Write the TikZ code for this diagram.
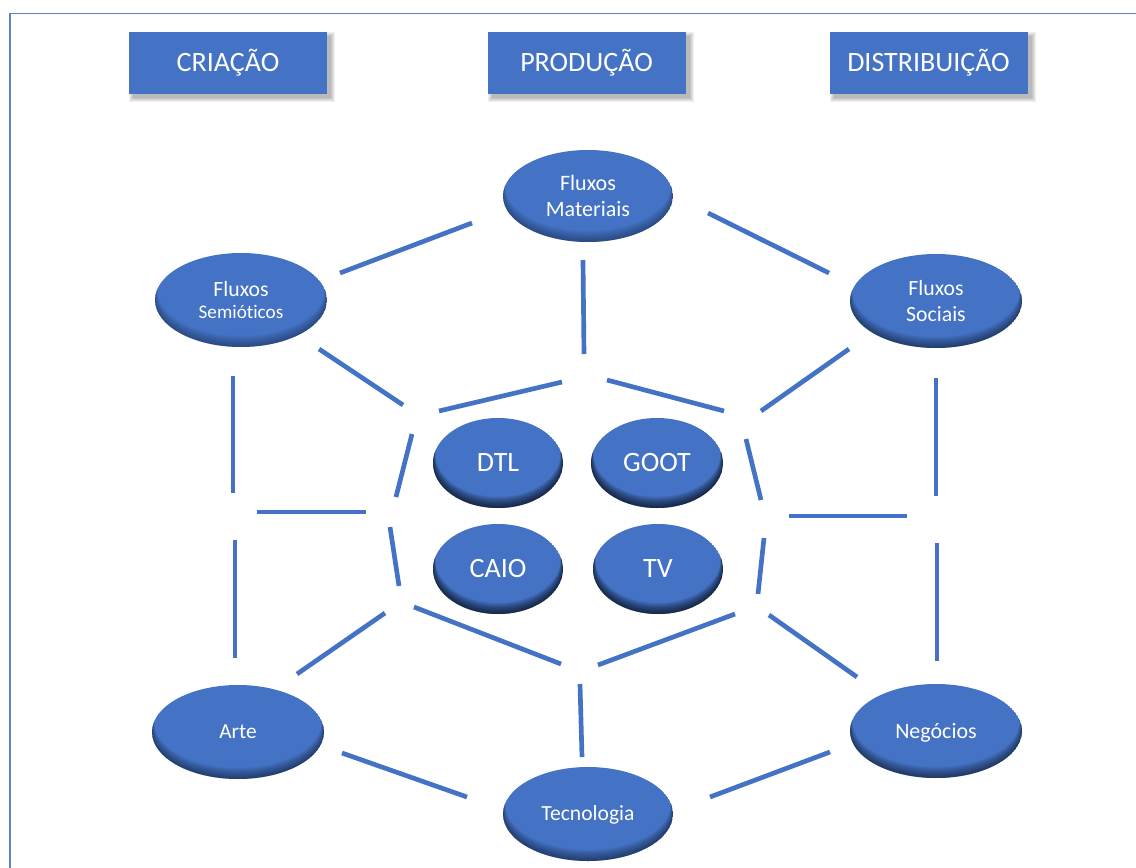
\documentclass[tikz,border=0pt]{standalone}
\usepackage{fontspec}
\setmainfont{Carlito}[Ligatures=NoCommon]
\usetikzlibrary{shapes.geometric}

\definecolor{acc}{HTML}{4472C4}
\definecolor{framecol}{HTML}{5A82C9}

% a one-line label whose box is exactly its cap height, so caps sit centred
\newcommand\capline[1]{\raisebox{0pt}[\fontcharht\font`N][0pt]{#1}}

\tikzset{
  link/.style={draw=acc, line width=3.5pt},
  hdr/.style={fill=acc, text=white, minimum width=148.5pt, minimum height=46.5pt,
              inner sep=0pt, font=\fontsize{21}{24}\selectfont},
  lbl/.style={text=white, align=center, inner sep=0pt, ellipse},
}

% filled ellipse with a soft inner shadow along its lower rim, plus its label node
% #1 name, #2 x, #3 y, #4 x radius, #5 y radius, #6 shadow strength, #7 font, #8 text
\newcommand\blob[8]{%
  \begin{scope}
    \clip (#2,#3) ellipse [x radius={#4*0.75pt}, y radius={#5*0.75pt}];
    \fill[acc] (#2,#3) ellipse [x radius={#4*0.75pt}, y radius={#5*0.75pt}];
    \foreach \k in {1,...,10}{
      \fill[black, opacity=#6, even odd rule]
        ({#2-#4-6},{#3-#5-6}) rectangle ({#2+#4+6},{#3+#5+6})
        (#2,{#3-\k*0.9}) ellipse [x radius={(#4-0.25*\k)*0.75pt}, y radius={(#5-0.2*\k)*0.75pt}];
    }
  \end{scope}
  \node[lbl, minimum width={#4*1.5pt}, minimum height={#5*1.5pt}, font=#7] (#1) at (#2,#3) {#8};
}

% header box with a soft drop shadow
\newcommand\headbox[4]{% name, x, y, text
  \foreach \s in {0,1,2,3,4}{
    \fill[black, opacity=0.06]
      ({#2-99+4-\s},{#3-31+4-\s}) rectangle ({#2+99+4+\s},{#3+31+4+\s});
  }
  \node[hdr] (#1) at (#2,#3) {\capline{#4}};
}

\begin{document}
\begin{tikzpicture}[x=0.75pt, y=-0.75pt]
  \useasboundingbox (0,0) rectangle (1136,868);
  \fill[white] (0,0) rectangle (1136,868);

  % outer frame (open towards right and bottom)
  \draw[framecol, line width=1.2pt] (10,868) -- (10,13.5) -- (1136,13.5);

  % column headers
  \headbox{cri}{228}{62.5}{CRIAÇÃO}
  \headbox{pro}{586.5}{62.5}{PRODUÇÃO}
  \headbox{dis}{928.5}{62.5}{DISTRIBUIÇÃO}

  % outer ring of flows
  \blob{mat}{588}{196}{85}{46}{0.035}{\fontsize{16.5}{19.5}\selectfont}{Fluxos\\Materiais}
  \blob{sem}{241}{300}{86}{47}{0.035}{\fontsize{16.3}{18}\selectfont}{Fluxos\\[-1pt]{\fontsize{14.4}{17}\selectfont Semióticos}}
  \blob{soc}{936}{301}{86}{47}{0.05}{\fontsize{16.3}{19.5}\selectfont}{Fluxos\\Sociais}
  \blob{arte}{238}{732}{86}{47}{0.05}{\fontsize{16}{19}\selectfont}{\capline{Arte}}
  \blob{neg}{936}{731}{86}{47}{0.06}{\fontsize{16.5}{19}\selectfont}{\capline{Negócios}}
  \blob{tec}{588}{814}{85}{47}{0.05}{\fontsize{16.2}{19}\selectfont}{\capline{Tecnologia}}

  % inner core
  \blob{dtl}{498}{463}{65}{45}{0.085}{\fontsize{21}{24}\selectfont}{\capline{DTL}}
  \blob{goot}{657}{463}{66}{45}{0.085}{\fontsize{21}{24}\selectfont}{\capline{GOOT}}
  \blob{caio}{498}{569}{65}{45}{0.085}{\fontsize{21}{24}\selectfont}{\capline{CAIO}}
  \blob{tv}{658}{569}{65}{45}{0.085}{\fontsize{21}{24}\selectfont}{\capline{TV}}

  % web of links
  \foreach [count=\i] \a/\b in {
      {340,273}/{472,223}, {708,213}/{829,273}, {583,260}/{584,354},
      {319,349}/{403,405}, {849,349}/{761,411}, {233,376}/{233,493},
      {235,540}/{235,658}, {257,512}/{366,512}, {936,378}/{936,496},
      {937,543}/{937,661}, {789,516}/{907,516}, {297,674}/{385,613},
      {769,615}/{857,677}, {580,684}/{582,757}, {342,753}/{467,797},
      {710,797}/{830,752}, {439,411}/{562,382}, {607,380}/{724,411},
      {412,434}/{396,497}, {390,527}/{399,586}, {746,439}/{761,500},
      {764,538}/{758,594}, {414,607}/{561,664}, {598,665}/{735,614}}{
    \coordinate (p\i) at (\a);
    \coordinate (q\i) at (\b);
    \draw[link] (p\i) -- (q\i);
  }
\end{tikzpicture}
\end{document}
